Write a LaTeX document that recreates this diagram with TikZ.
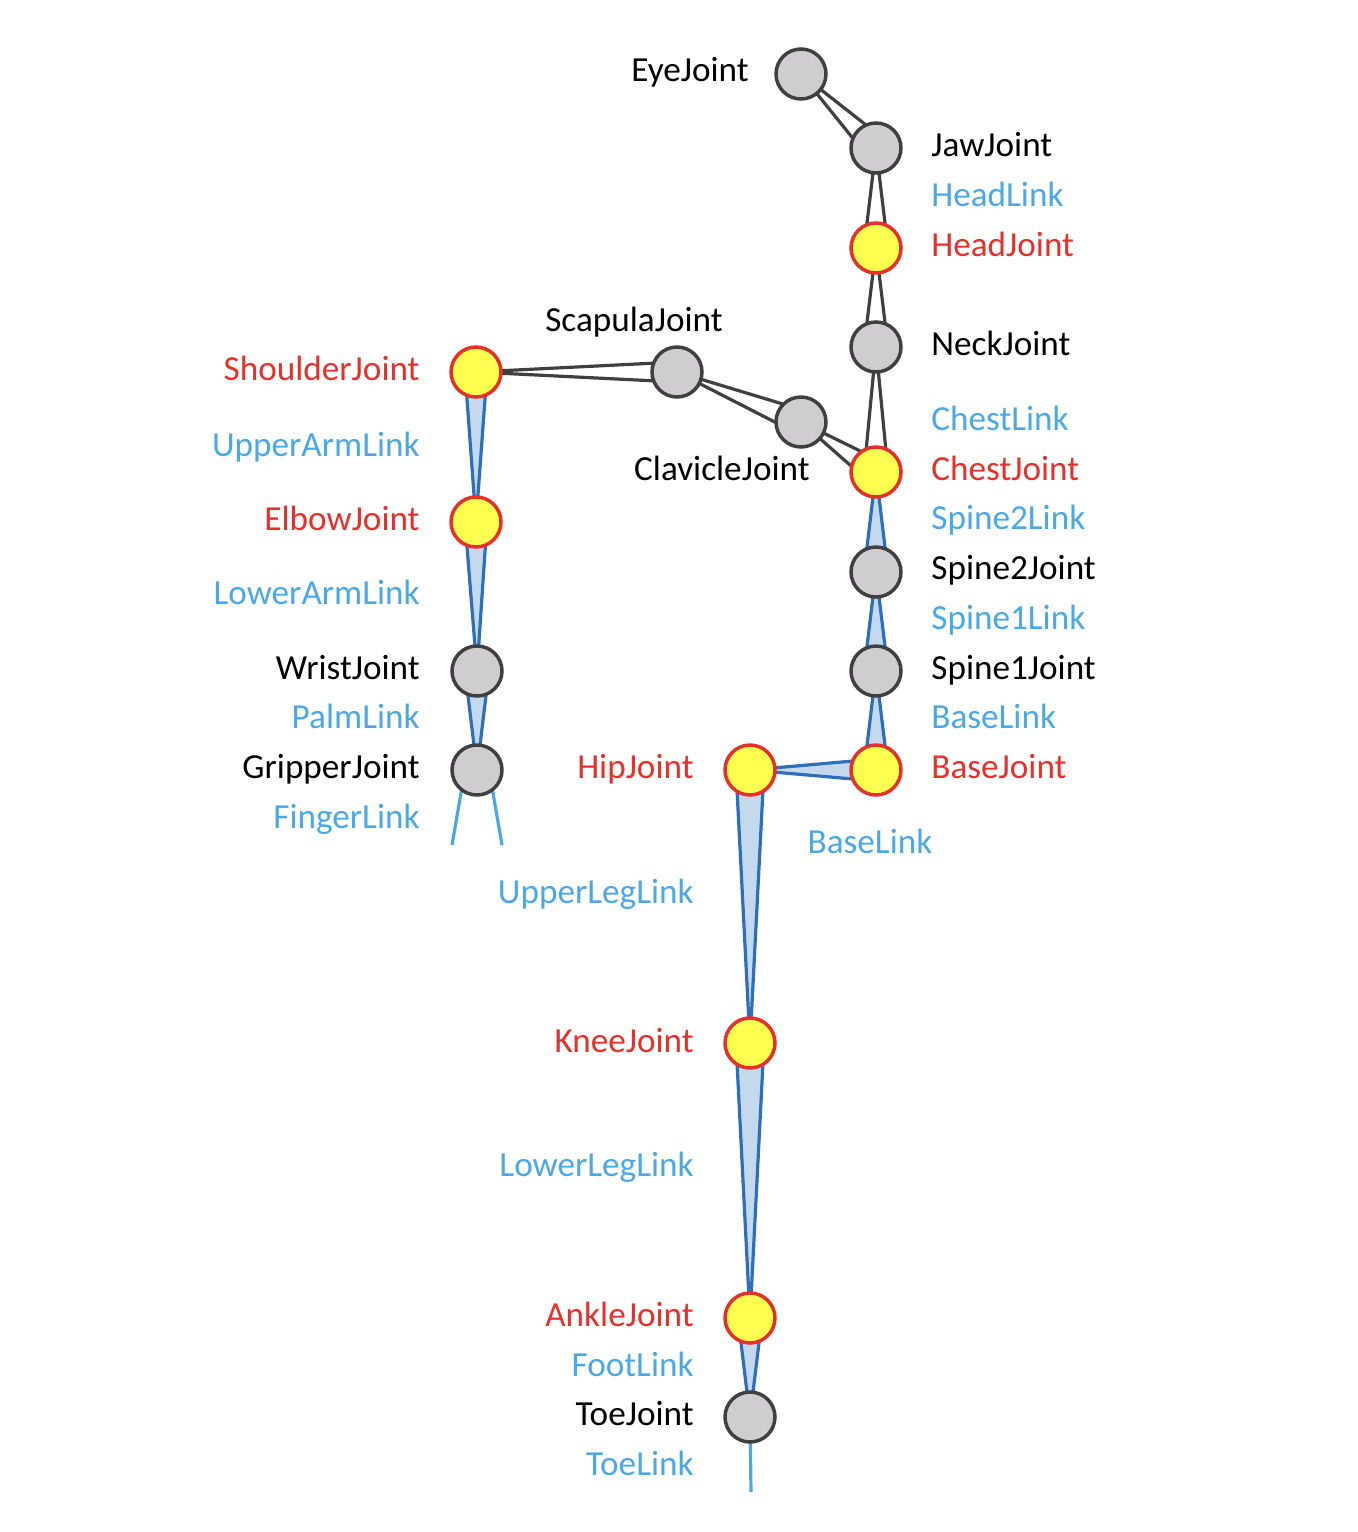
\documentclass[tikz,border=0pt]{standalone}
\usepackage{fontspec}
\setmainfont{Carlito}
\usetikzlibrary{calc}
\definecolor{JointRed}{HTML}{E8302A}
\definecolor{JointYellow}{HTML}{FFFF50}
\definecolor{JointGrey}{HTML}{CFCDCF}
\definecolor{EdgeDark}{HTML}{404040}
\definecolor{BoneBlue}{HTML}{2F6EBA}
\definecolor{BoneFill}{HTML}{C5D9EE}
\definecolor{LinkBlue}{HTML}{4AA8E8}
\pgfdeclarelayer{bg}
\pgfsetlayers{bg,main}
\newcommand{\lblfont}{\fontsize{17.6}{20}\selectfont}
% bone: wide end at the parent joint, tip at the child joint
\newcommand{\bone}[4][bluebone]{%
  \draw[#1] ($(#2.center)!#4!90:(#3.center)$) -- (#3.center)
    -- ($(#2.center)!#4!-90:(#3.center)$) -- cycle;}

\begin{document}
\begin{tikzpicture}[x=0.5pt,y=-0.5pt,
    joint/.style={circle,draw=EdgeDark,fill=JointGrey,line width=1.75pt,
                  minimum size=25pt,inner sep=0pt},
    keyjoint/.style={joint,draw=JointRed,fill=JointYellow},
    bluebone/.style={draw=BoneBlue,fill=BoneFill,line width=1.6pt,line join=round},
    darkbone/.style={draw=EdgeDark,fill=white,line width=1.6pt,line join=round},
    linkline/.style={draw=LinkBlue,line width=1.6pt},
    jlabel/.style={font=\lblfont,text=black,inner sep=0pt},
    klabel/.style={jlabel,text=JointRed},
    llabel/.style={jlabel,text=LinkBlue}
  ]
  \useasboundingbox (0,0) rectangle (1358,1532);

  % joints
  \node[joint]    (eye)      at (801,74)   {};
  \node[joint]    (jaw)      at (876,148)  {};
  \node[keyjoint] (head)     at (876,248)  {};
  \node[joint]    (neck)     at (876,347)  {};
  \node[keyjoint] (chest)    at (876,472)  {};
  \node[joint]    (spine2)   at (876,572)  {};
  \node[joint]    (spine1)   at (876,671)  {};
  \node[keyjoint] (base)     at (876,770)  {};
  \node[keyjoint] (hip)      at (750,770)  {};
  \node[keyjoint] (knee)     at (750,1043) {};
  \node[keyjoint] (ankle)    at (750,1318) {};
  \node[joint]    (toe)      at (750,1417) {};
  \node[joint]    (clavicle) at (801,422)  {};
  \node[joint]    (scapula)  at (677,372)  {};
  \node[keyjoint] (shoulder) at (476,372)  {};
  \node[keyjoint] (elbow)    at (476,522)  {};
  \node[joint]    (wrist)    at (477,671)  {};
  \node[joint]    (gripper)  at (477,770)  {};

  \coordinate (fingerL) at (452,845);
  \coordinate (fingerR) at (502,845);
  \coordinate (toeEnd)  at (751,1492);

  \begin{pgfonlayer}{bg}
    \bone[darkbone]{chest}{neck}{6pt}
    \bone[darkbone]{neck}{head}{6pt}
    \bone[darkbone]{head}{jaw}{6pt}
    \bone[darkbone]{jaw}{eye}{6pt}
    \bone[darkbone]{chest}{clavicle}{6pt}
    \bone[darkbone]{clavicle}{scapula}{6pt}
    \bone[darkbone]{scapula}{shoulder}{5pt}
    \bone{base}{spine1}{6pt}
    \bone{spine1}{spine2}{6pt}
    \bone{spine2}{chest}{6pt}
    \bone{base}{hip}{5.5pt}
    \bone{hip}{knee}{7pt}
    \bone{knee}{ankle}{7pt}
    \bone{ankle}{toe}{6pt}
    \bone{shoulder}{elbow}{5.5pt}
    \bone{elbow}{wrist}{5.5pt}
    \bone{wrist}{gripper}{6pt}
    \draw[linkline] ($(gripper.center)+(-12,0)$) -- (fingerL);
    \draw[linkline] ($(gripper.center)+(12,0)$) -- (fingerR);
    \draw[linkline] (toe.center) -- (toeEnd);
  \end{pgfonlayer}

  % labels, spine side
  \node[jlabel,anchor=mid east] (eyeL)     at (749,77)   {EyeJoint};
  \node[jlabel,anchor=mid west] (jawL)     at (931,152)  {JawJoint};
  \node[llabel,anchor=mid west] (headlnk)  at (931,202)  {HeadLink};
  \node[klabel,anchor=mid west] (headL)    at (931,252)  {HeadJoint};
  \node[jlabel,anchor=mid west] (neckL)    at (931,351)  {NeckJoint};
  \node[llabel,anchor=mid west] (chestlnk) at (931,426)  {ChestLink};
  \node[klabel,anchor=mid west] (chestL)   at (931,476)  {ChestJoint};
  \node[llabel,anchor=mid west] (sp2lnk)   at (931,525)  {Spine2Link};
  \node[jlabel,anchor=mid west] (sp2L)     at (931,575)  {Spine2Joint};
  \node[llabel,anchor=mid west] (sp1lnk)   at (931,625)  {Spine1Link};
  \node[jlabel,anchor=mid west] (sp1L)     at (931,675)  {Spine1Joint};
  \node[llabel,anchor=mid west] (baselnk)  at (931,724)  {BaseLink};
  \node[klabel,anchor=mid west] (baseL)    at (931,774)  {BaseJoint};
  \node[llabel,anchor=mid]      (baselnk2) at (870,849)  {BaseLink};

  % labels, arm
  \node[jlabel,anchor=mid]      (scapL)    at (634,327)  {ScapulaJoint};
  \node[jlabel,anchor=mid east] (clavL)    at (810,476)  {ClavicleJoint};
  \node[klabel,anchor=mid east] (shoulL)   at (420,376)  {ShoulderJoint};
  \node[llabel,anchor=mid east] (uarmlnk)  at (420,452)  {UpperArmLink};
  \node[klabel,anchor=mid east] (elbowL)   at (420,526)  {ElbowJoint};
  \node[llabel,anchor=mid east] (larmlnk)  at (420,600)  {LowerArmLink};
  \node[jlabel,anchor=mid east] (wristL)   at (420,675)  {WristJoint};
  \node[llabel,anchor=mid east] (palmlnk)  at (420,724)  {PalmLink};
  \node[jlabel,anchor=mid east] (gripL)    at (420,774)  {GripperJoint};
  \node[llabel,anchor=mid east] (fingerlnk)at (420,824)  {FingerLink};

  % labels, leg
  \node[klabel,anchor=mid east] (hipL)     at (694,774)  {HipJoint};
  \node[llabel,anchor=mid east] (ulegnk)   at (694,899)  {UpperLegLink};
  \node[klabel,anchor=mid east] (kneeL)    at (694,1048) {KneeJoint};
  \node[llabel,anchor=mid east] (llegnk)   at (694,1172) {LowerLegLink};
  \node[klabel,anchor=mid east] (ankleL)   at (694,1322) {AnkleJoint};
  \node[llabel,anchor=mid east] (footlnk)  at (694,1372) {FootLink};
  \node[jlabel,anchor=mid east] (toeL)     at (694,1421) {ToeJoint};
  \node[llabel,anchor=mid east] (toelnk)   at (694,1471) {ToeLink};
\end{tikzpicture}
\end{document}
